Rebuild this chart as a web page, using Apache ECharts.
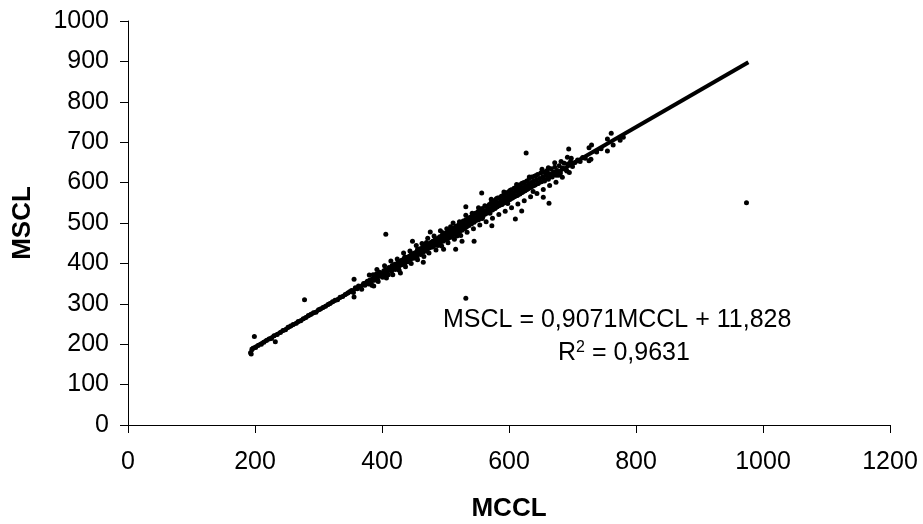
<!DOCTYPE html>
<html>
<head>
<meta charset="utf-8">
<script src="https://cdn.jsdelivr.net/npm/echarts@6/dist/echarts.min.js"></script>
<style>
html,body{margin:0;padding:0;background:#fff;}
#chart{width:923px;height:524px;}
</style>
</head>
<body>
<div id="chart"></div>
<script>
// Axis ticks
const xTicks = [0, 200, 400, 600, 800, 1000, 1200];
const yTicks = [0, 100, 200, 300, 400, 500, 600, 700, 800, 900, 1000];

// Trend line (from the equation shown on the chart)
const trendSlope = 0.9071;
const trendIntercept = 11.828;
const trendRange = [193, 977];
const equationText = 'MSCL = 0,9071MCCL + 11,828';
const r2Text = '0,9631';

// Scatter points [MCCL, MSCL]
const lowPoints = [
[195,186],[197,190],[201,192],[205,197],[210,200],[214,205],[218,209],[222,213],[226,214],[230,221],
[235,224],[240,229],[244,234],[248,236],[252,242],[256,245],[260,249],[265,252],[268,256],[272,258],
[276,263],[280,266],[284,271],[288,274],[292,278],[296,279],[300,285],[303,287],[307,291],[311,294],
[315,298],[318,301],[322,305],[326,309],[330,310],[334,316],[338,318],[342,323],[346,327],[349,330]
];
const midLowPoints = [
[352,333],[355,328],[358,340],[361,337],[363,344],[366,343],[368,336],[371,350],[373,346],[375,352],
[377,356],[379,349],[381,359],[383,353],[385,362],[386,372],[388,358],[390,366],[391,374],[393,361],
[395,370],[396,378],[398,369],[400,376],[401,366],[403,382],[405,373],[406,385],[408,378],[410,372],
[411,390],[413,384],[415,380],[416,395],[418,388],[420,398],[421,385],[423,392],[425,402],[426,389],
[428,405],[430,396],[431,408],[433,400],[435,412],[436,399],[438,406],[440,415],[441,404],[443,418],
[445,410],[446,422],[448,414],[450,425],[450,413]
];
const midPoints = [
[452,420],[454,428],[455,415],[457,432],[458,424],[460,436],[461,422],[462,430],[464,440],[465,428],
[466,434],[468,445],[469,433],[470,440],[471,430],[473,448],[474,438],[475,444],[477,452],[478,440],
[479,447],[480,455],[481,442],[483,450],[484,460],[485,446],[486,452],[488,462],[489,448],[490,457],
[491,466],[492,452],[494,460],[495,470],[496,455],[497,463],[499,472],[500,458],[501,466],[502,476],
[503,460],[505,470],[506,480],[507,464],[508,474],[510,484],[511,468],[512,476],[513,488],[515,472],
[516,480],[517,492],[518,476],[520,486],[521,496],[522,478],[523,488],[525,500],[526,482],[527,492],
[528,505],[530,486],[531,496],[532,508],[533,490],[535,500],[536,512],[537,494],[538,504],[540,515],
[541,498],[542,508],[543,520],[545,502],[546,512],[547,524],[548,506],[550,516],[551,528],[552,508],
[553,520],[555,532],[556,512],[557,522],[558,536],[559,516],[560,526]
];
const highPoints = [
[562,530],[563,522],[565,540],[566,528],[567,534],[569,546],[570,524],[571,536],[572,550],[574,532],
[575,542],[576,555],[578,536],[579,546],[580,560],[581,540],[583,550],[584,562],[585,544],[587,554],
[588,566],[589,546],[591,558],[592,570],[593,550],[595,562],[596,575],[597,554],[599,566],[600,578],
[601,558],[603,570],[604,582],[605,562],[607,574],[608,586],[609,566],[611,578],[612,590],[613,568],
[615,582],[616,594],[617,572],[619,586],[620,598],[621,576],[623,588],[624,600],[625,580],[627,592],
[628,604],[629,584],[631,596],[632,610],[633,588],[635,600],[636,614],[637,592],[639,604],[640,616],
[641,594],[643,606],[645,620],[646,598],[648,610],[650,624],[651,602],[653,614],[655,626],[656,604],
[658,618],[660,630],[662,608],[664,622],[666,634],[668,614],[670,626],[672,638],[674,618],[676,630],
[679,642],[681,624],[684,636],[687,648],[690,632],[693,646],[697,652],[700,640]
];
const spreadPoints = [
[380,371],[384,346],[392,385],[394,355],[404,394],[407,364],[414,406],[417,372],[424,411],[427,383],
[434,426],[437,392],[444,431],[446,400],[454,444],[456,409],[463,449],[466,417],[472,462],[474,426],
[482,468],[485,433],[492,481],[494,443],[502,486],[504,451],[512,500],[514,460],[522,503],[524,469],
[532,519],[534,477],[542,524],[544,486],[552,538],[554,495],[562,543],[564,503],[572,559],[574,512],
[582,562],[584,521],[592,577],[594,529],[602,581],[604,538],[612,595],[614,547],[622,599],[624,555],
[632,614],[634,565],[642,617],[644,573],[652,633],[654,583],[662,637],[664,593],[672,649],[674,601],
[682,652],[684,613],[692,663],[695,625],[470,452],[488,444],[508,491],[518,468],[538,513],[558,511],
[578,552],[598,548],[618,590],[638,578],[658,622],[678,618],[698,660],[436,416],[456,435],[496,476]
];
const topPoints = [
[704,650],[708,656],[712,652],[716,662],[720,660],[726,686],[726,654],[729,658],[730,693],[738,676],
[745,684],[755,708],[755,678],[761,722],[764,693],[775,705],[780,712]
];
const outlierPoints = [
[193,179],[194,176],[199,219],[232,206],[278,310],[356,361],[356,317],[387,344],[406,472],[429,376],
[448,455],[465,403],[476,478],[497,435],[516,435],[526,455],[532,314],[532,540],[545,455],[557,574],
[573,493],[610,510],[620,530],[627,673],[654,564],[663,549],[691,629],[694,683],[974,550]
];

const allPoints = [].concat(lowPoints, midLowPoints, midPoints, highPoints, spreadPoints, topPoints, outlierPoints);
const trendData = trendRange.map(x => [x, trendSlope * x + trendIntercept]);

const FONT = 'Liberation Sans, Arial, sans-serif';
const chart = echarts.init(document.getElementById('chart'), null, {renderer: 'canvas'});
chart.setOption({
  animation: false,
  backgroundColor: '#ffffff',
  grid: {left: 128, right: 33, top: 21, bottom: 99, containLabel: false},
  xAxis: {
    type: 'value', min: xTicks[0], max: xTicks[xTicks.length - 1], interval: 200,
    axisLine: {show: true, onZero: false, lineStyle: {color: '#000', width: 1}},
    axisTick: {show: true, length: 8, inside: false, lineStyle: {color: '#000'}},
    axisLabel: {color: '#000', fontFamily: FONT, fontSize: 25, margin: 25, formatter: v => String(v)},
    splitLine: {show: false}
  },
  yAxis: {
    type: 'value', min: yTicks[0], max: yTicks[yTicks.length - 1], interval: 100,
    axisLine: {show: true, onZero: false, lineStyle: {color: '#000', width: 1}},
    axisTick: {show: true, length: 8, inside: false, lineStyle: {color: '#000'}},
    axisLabel: {color: '#000', fontFamily: FONT, fontSize: 25, margin: 19, formatter: v => String(v)},
    splitLine: {show: false}
  },
  series: [
    {
      type: 'scatter', data: allPoints, symbol: 'circle', symbolSize: 5,
      itemStyle: {color: '#000', opacity: 1}, z: 3
    },
    {
      type: 'line', data: trendData, symbol: 'none', showSymbol: false,
      lineStyle: {color: '#000', width: 4}, z: 4
    }
  ],
  graphic: [
    {type: 'text', x: 443, y: 320.5, style: {text: equationText, font: '25px ' + FONT, fill: '#000', textAlign: 'left', textVerticalAlign: 'middle'}},
    {type: 'text', x: 558, y: 352.5, style: {
      text: '{n|R}{s|2}{n| = ' + r2Text + '}',
      textAlign: 'left', textVerticalAlign: 'middle',
      rich: {n: {fontSize: 25, fontFamily: FONT, fill: '#000', color: '#000', verticalAlign: 'bottom'},
             s: {fontSize: 16, fontFamily: FONT, fill: '#000', color: '#000', verticalAlign: 'top', padding: [0,0,10,0]}},
      fill: '#000'}},
    {type: 'text', x: 22.5, y: 223, rotation: Math.PI / 2,
      style: {text: 'MSCL', font: 'bold 26px ' + FONT, fill: '#000', textAlign: 'center', textVerticalAlign: 'middle'}},
    {type: 'text', x: 509, y: 509,
      style: {text: 'MCCL', font: 'bold 26px ' + FONT, fill: '#000', textAlign: 'center', textVerticalAlign: 'middle'}}
  ]
});
</script>
</body>
</html>
